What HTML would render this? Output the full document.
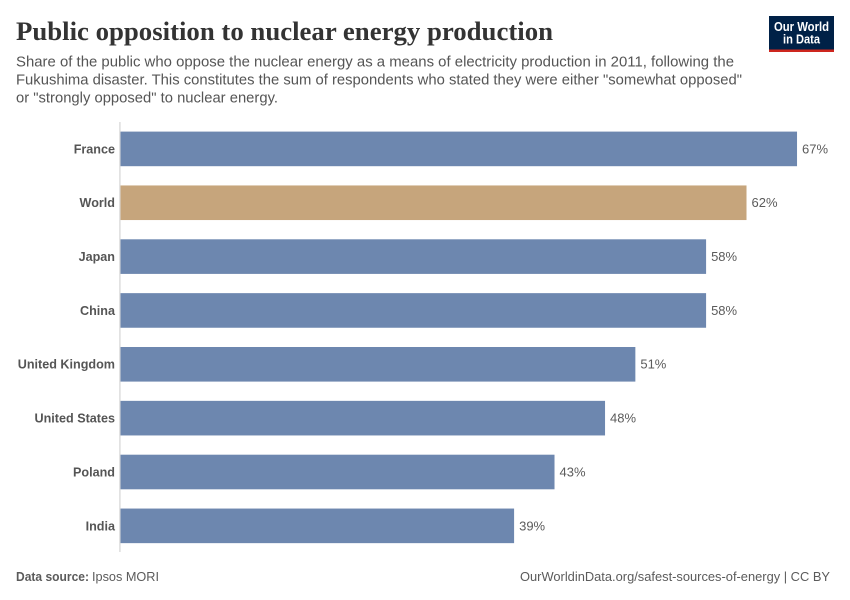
<!DOCTYPE html>
<html lang="en">
<head>
<meta charset="utf-8">
<title>Public opposition to nuclear energy production</title>
<style>
html,body{margin:0;padding:0;background:#fff}
svg{display:block}
text{font-family:"Liberation Sans",sans-serif}
</style>
</head>
<body>
<svg id="chart" width="850" height="600" viewBox="0 0 850 600" xmlns="http://www.w3.org/2000/svg">
  <rect width="850" height="600" fill="#fff"/>
  <text x="16" y="40" font-size="26" font-weight="700" fill="#333" textLength="537" lengthAdjust="spacingAndGlyphs" style="font-family:'Liberation Serif',serif">Public opposition to nuclear energy production</text>
  <g font-size="14.5" fill="#555">
    <text x="16" y="66.5" textLength="718" lengthAdjust="spacingAndGlyphs">Share of the public who oppose the nuclear energy as a means of electricity production in 2011, following the</text>
    <text x="16" y="84.5" textLength="726" lengthAdjust="spacingAndGlyphs">Fukushima disaster. This constitutes the sum of respondents who stated they were either "somewhat opposed"</text>
    <text x="16" y="102.5" textLength="262" lengthAdjust="spacingAndGlyphs">or "strongly opposed" to nuclear energy.</text>
  </g>
  <g>
    <rect x="769" y="16" width="65" height="36" fill="#002147"/>
    <rect x="769" y="49.5" width="65" height="2.5" fill="#ce261e"/>
    <text x="801.5" y="31" font-size="13" font-weight="700" fill="#fff" text-anchor="middle" textLength="55" lengthAdjust="spacingAndGlyphs">Our World</text>
    <text x="801.5" y="43.5" font-size="13" font-weight="700" fill="#fff" text-anchor="middle" textLength="37" lengthAdjust="spacingAndGlyphs">in Data</text>
  </g>
  <g id="plot"></g>
  <text x="16" y="581" font-size="13" fill="#5b5b5b"><tspan font-weight="700" textLength="73" lengthAdjust="spacingAndGlyphs">Data source:</tspan><tspan x="92" textLength="67" lengthAdjust="spacingAndGlyphs">Ipsos MORI</tspan></text>
  <text x="520" y="581" font-size="13" fill="#5b5b5b" textLength="310" lengthAdjust="spacingAndGlyphs">OurWorldinData.org/safest-sources-of-energy | CC BY</text>
</svg>
<script>
const categories = ["France", "World", "Japan", "China", "United Kingdom", "United States", "Poland", "India"];
const opposedShare = [67, 62, 58, 58, 51, 48, 43, 39];
const highlighted = ["World"];
const valueSuffix = "%";

const NS = "http://www.w3.org/2000/svg";
const plot = document.getElementById("plot");
const plotLeft = 120, pxPerPercent = 10.105;
const firstBarTop = 131.6, rowStep = 53.85, barHeight = 34.6;
const xScale = v => plotLeft + v * pxPerPercent;
const yScale = i => firstBarTop + i * rowStep;

const axisLine = document.createElementNS(NS, "line");


axisLine.setAttribute("x1", plotLeft - 0.1);
axisLine.setAttribute("x2", plotLeft - 0.1);
axisLine.setAttribute("y1", 122);
axisLine.setAttribute("y2", 552);
axisLine.setAttribute("stroke", "#dddddd");
axisLine.setAttribute("stroke-width", "1.5");
plot.appendChild(axisLine);

categories.forEach((cat, i) => {
  const slug = cat.toLowerCase().replace(/\s+/g, "-");
  const value = opposedShare[i];
  const top = yScale(i);
  const mid = top + barHeight / 2 + 4.4;

  const bar = document.createElementNS(NS, "rect");
  
  
  bar.setAttribute("x", plotLeft + 0.5);
  bar.setAttribute("y", top);
  bar.setAttribute("width", xScale(value) - plotLeft - 0.5);
  bar.setAttribute("height", barHeight);
  bar.setAttribute("fill", highlighted.includes(cat) ? "#c6a57c" : "#6d87af");
  plot.appendChild(bar);

  const label = document.createElementNS(NS, "text");
  
  
  label.setAttribute("x", plotLeft - 5);
  label.setAttribute("y", mid);
  label.setAttribute("text-anchor", "end");
  label.setAttribute("font-size", "12.6");
  label.setAttribute("font-weight", "700");
  label.setAttribute("fill", "#555");
  label.textContent = cat;
  plot.appendChild(label);

  const valueLabel = document.createElementNS(NS, "text");
  
  
  valueLabel.setAttribute("x", xScale(value) + 5);
  valueLabel.setAttribute("y", mid);
  valueLabel.setAttribute("font-size", "13");
  valueLabel.setAttribute("fill", "#5b5b5b");
  valueLabel.textContent = value + valueSuffix;
  plot.appendChild(valueLabel);
});
</script>
</body>
</html>
